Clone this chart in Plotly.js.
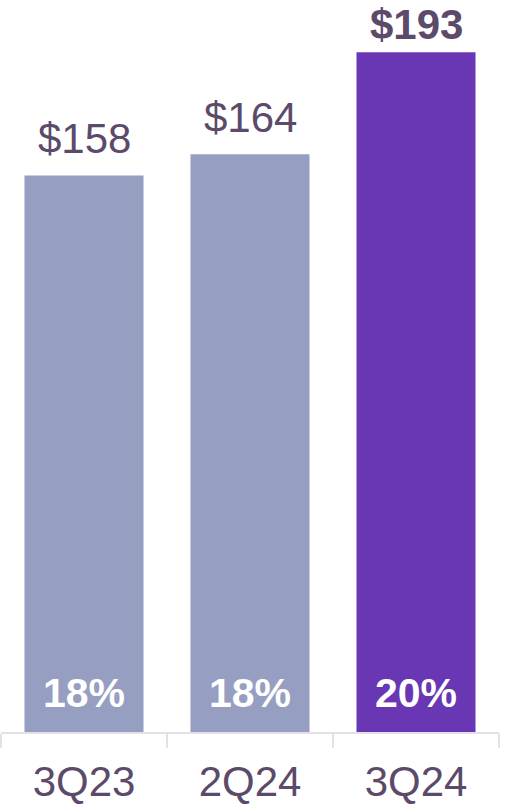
<!DOCTYPE html>
<html>
<head>
<meta charset="utf-8">
<script src="https://cdn.plot.ly/plotly-3.0.1.min.js"></script>
<style>html,body{margin:0;padding:0;background:#fff;}#chart{width:505px;height:806px;}</style>
</head>
<body>
<div id="chart"></div>
<script>
const categories = ["3Q23", "2Q24", "3Q24"];
const values = [158, 164, 193];
const valueLabels = ["$158", "$164", "$193"];
const marginLabels = ["18%", "18%", "20%"];
const barColors = ["#969ec1", "#969ec1", "#6937b3"];
const labelBold = [false, false, true];
const labelShift = [11, 11, 2];

const textColor = "#5b4a69";
const fontFamily = "Arial, 'Liberation Sans', sans-serif";

const trace = {
  type: "bar",
  x: categories,
  y: values,
  marker: { color: barColors },
  hoverinfo: "none"
};

const annotations = [];
categories.forEach((c, i) => {
  annotations.push({
    x: c, y: values[i], xref: "x", yref: "y",
    text: labelBold[i] ? "<b>" + valueLabels[i] + "</b>" : valueLabels[i],
    showarrow: false, yanchor: "bottom", yshift: labelShift[i],
    font: { family: fontFamily, size: 42, color: textColor }
  });
  annotations.push({
    x: c, y: 0, xref: "x", yref: "y",
    text: "<b>" + marginLabels[i] + "</b>",
    showarrow: false, yanchor: "bottom", yshift: 14,
    font: { family: fontFamily, size: 41, color: "#ffffff" }
  });
});

const layout = {
  width: 505, height: 806,
  margin: { l: 1, r: 6, t: 0, b: 74 },
  paper_bgcolor: "#ffffff",
  plot_bgcolor: "#ffffff",
  bargap: 0.283,
  showlegend: false,
  xaxis: {
    type: "category",
    showline: true, linecolor: "#e4dfe8", linewidth: 2,
    ticks: "outside", tickson: "boundaries", ticklen: 14, tickwidth: 2, tickcolor: "#e4dfe8",
    ticklabelstandoff: 12,
    tickfont: { family: fontFamily, size: 42, color: textColor },
    showgrid: false, zeroline: false, fixedrange: true
  },
  yaxis: {
    range: [0, 207.8],
    visible: false, showgrid: false, zeroline: false, fixedrange: true
  },
  annotations: annotations
};

Plotly.newPlot("chart", [trace], layout, { displayModeBar: false, staticPlot: true });
</script>
</body>
</html>
